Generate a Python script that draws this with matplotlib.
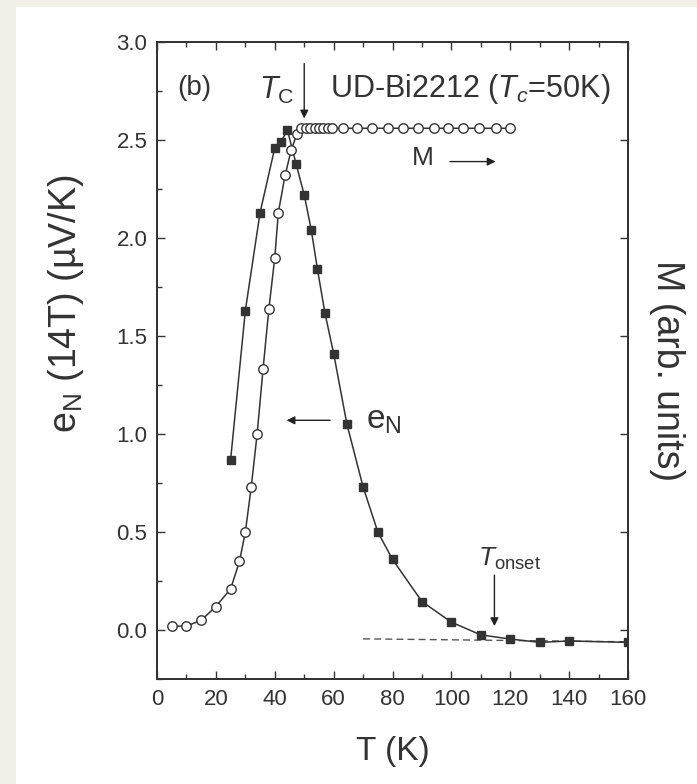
import matplotlib.pyplot as plt
from matplotlib.patches import Rectangle
from matplotlib.ticker import MultipleLocator, FormatStrFormatter

plt.rcParams['font.family'] = ['Liberation Sans', 'DejaVu Sans']
plt.rcParams['mathtext.fontset'] = 'custom'
plt.rcParams['mathtext.rm'] = 'Liberation Sans'
plt.rcParams['mathtext.it'] = 'Liberation Sans:italic'

# Nernst signal e_N at 14T (filled squares, left axis)
T_e = [25, 30, 35, 40, 42, 44.3, 47.2, 50, 52.4, 54.5, 57, 60, 64.5, 70, 75, 80,
       90, 100, 110, 120, 130, 140, 160]
e_N = [0.87, 1.63, 2.13, 2.46, 2.49, 2.55, 2.38, 2.22, 2.04, 1.84, 1.62, 1.41, 1.05,
       0.73, 0.50, 0.36, 0.145, 0.04, -0.025, -0.046, -0.063, -0.056, -0.063]

# magnetization M (open circles, right axis, arb. units)
T_M = [5, 10, 15, 20, 25, 28, 30, 32, 34, 36, 38, 40, 41.2, 43.5, 45.6, 47.5,
       49, 50.5, 52, 53.5, 55, 56.5, 58, 59.5, 63, 68, 73, 78.5, 83.5, 88.5, 94,
       99, 104, 109.5, 115, 120]
M = [0.02, 0.02, 0.05, 0.12, 0.21, 0.35, 0.50, 0.73, 1.00, 1.33, 1.64, 1.90, 2.13,
     2.32, 2.45, 2.53, 2.56, 2.56, 2.56, 2.56, 2.56, 2.56, 2.56, 2.56, 2.56, 2.56,
     2.56, 2.56, 2.56, 2.56, 2.56, 2.56, 2.56, 2.56, 2.56, 2.56]

# dashed background line
T_base = [70, 160]
base = [-0.045, -0.06]

dark = '#333333'

fig = plt.figure(figsize=(6.97, 7.84), dpi=100)
fig.patch.set_facecolor('#f2efe9')
fig.add_artist(Rectangle((16 / 697, 0), 1, 1 - 7 / 784, transform=fig.transFigure,
                         facecolor='white', edgecolor='none', zorder=-1))

ax = fig.add_axes([0.2253, 0.1339, 0.6758, 0.8125])
ax.plot(T_base, base, '--', color='#555555', lw=1.0, dashes=(5, 3))
ax.plot(T_e, e_N, '-s', color=dark, mfc=dark, mec=dark, ms=5.8, lw=1.1)

ax2 = ax.twinx()
ax2.plot(T_M, M, '-o', color=dark, mfc='white', mec=dark, ms=6.8, mew=1.0, lw=1.1)

ax.set_xlim(0, 160)
ax.set_ylim(-0.25, 3.0)
ax2.set_ylim(-0.25, 3.0)
ax.set_xticks(range(0, 161, 20))
ax.set_yticks([0, 0.5, 1.0, 1.5, 2.0, 2.5, 3.0])
ax.xaxis.set_minor_locator(MultipleLocator(10))
ax.yaxis.set_minor_locator(MultipleLocator(0.25))
ax.yaxis.set_major_formatter(FormatStrFormatter('%.1f'))
ax.tick_params(which='both', direction='in', top=True, right=False, width=1.0,
               color=dark, labelcolor=dark, labelsize=16)
ax.tick_params(which='major', length=6, pad=7)
ax.tick_params(which='minor', length=3.5)
ax2.set_yticks([0, 0.5, 1.0, 1.5, 2.0, 2.5, 3.0])
ax2.tick_params(direction='in', length=6, width=1.0, color=dark, labelright=False)
for a in (ax, ax2):
    for s in a.spines.values():
        s.set_linewidth(1.3)
        s.set_color(dark)

ax.set_xlabel('T (K)', fontsize=24, color=dark)
ax.xaxis.set_label_coords(0.5, -0.09)
ax.set_ylabel(r'e$_\mathrm{N}$ (14T) (µV/K)', fontsize=27, color=dark)
ax.yaxis.set_label_coords(-0.15, 0.589)
ax2.set_ylabel('M (arb. units)', fontsize=27, color=dark, rotation=-90, va='bottom')
ax2.yaxis.set_label_coords(1.045, 0.485)

arrow = dict(arrowstyle='-|>', color='#222222', lw=1.0, mutation_scale=12,
             shrinkA=0, shrinkB=0)
ax.text(7, 2.73, '(b)', fontsize=20, va='baseline', color=dark)
ax.text(58.8, 2.72, r'UD-Bi2212 ($T_c$=50K)', fontsize=22, va='baseline', color=dark)
ax.text(34.5, 2.71, r'$T_\mathrm{C}$', fontsize=22, va='baseline', color=dark)
ax.annotate('', xy=(50, 2.61), xytext=(50, 2.89), arrowprops=arrow)
ax.text(86.5, 2.41, 'M', fontsize=19, va='center', color=dark)
ax.annotate('', xy=(115, 2.39), xytext=(99.5, 2.39), arrowprops=arrow)
ax.text(71, 1.07, r'e$_\mathrm{N}$', fontsize=24, va='center', color=dark)
ax.annotate('', xy=(44, 1.07), xytext=(58.8, 1.07), arrowprops=arrow)
ax.text(109, 0.33, r'$T_\mathrm{onset}$', fontsize=19, va='baseline', color=dark)
ax.annotate('', xy=(114.6, 0.02), xytext=(114.6, 0.28), arrowprops=arrow)

fig.savefig('out.png', dpi=100, facecolor=fig.get_facecolor())
